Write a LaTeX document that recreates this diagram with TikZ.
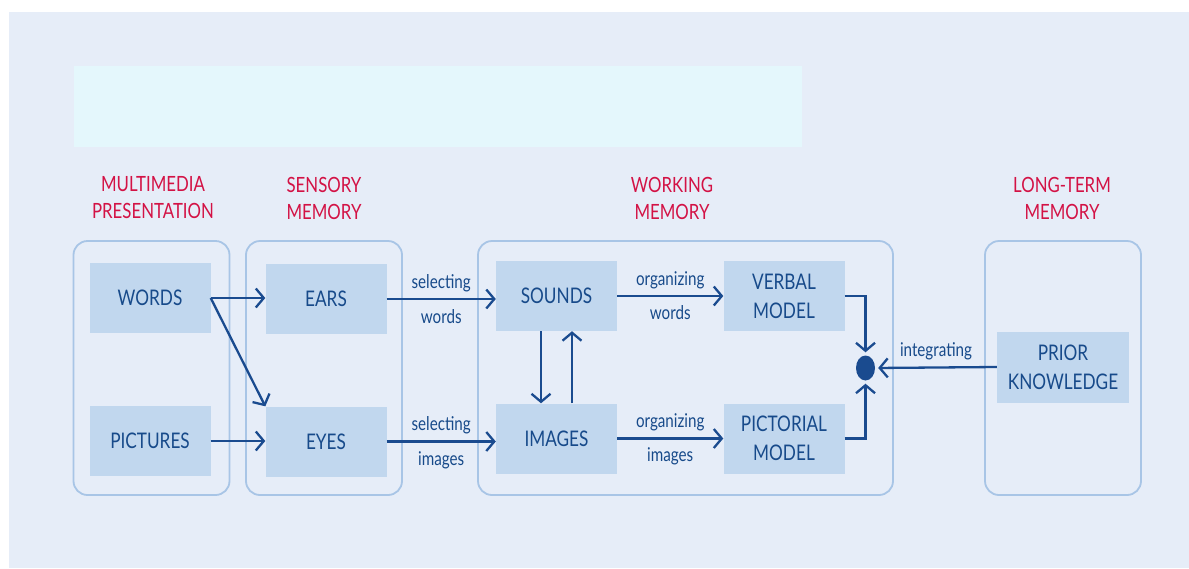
\documentclass[tikz,border=0pt]{standalone}
\usepackage{fontspec}
\setmainfont{Lato}[FakeStretch=0.8]
\usetikzlibrary{arrows.meta,shapes.geometric}
\definecolor{bgc}{HTML}{E6EDF8}
\definecolor{bannerc}{HTML}{E4F7FC}
\definecolor{grpc}{HTML}{A8C5E6}
\definecolor{boxc}{HTML}{C1D7EE}
\definecolor{txtc}{HTML}{174A8A}
\definecolor{arrc}{HTML}{1A4B8F}
\definecolor{redc}{HTML}{D31245}
\tikzset{
  grp/.style={draw=grpc, line width=1.8pt, rounded corners=14pt, minimum width=156pt, minimum height=254pt, inner sep=0pt},
  box/.style={fill=boxc, text=txtc, minimum width=121pt, minimum height=70pt, align=center, inner sep=0pt, font=\fontsize{21.5}{29}\selectfont},
  head/.style={text=redc, align=center, font=\fontsize{21}{27}\selectfont},
  lbl/.style={text=txtc, font=\fontsize{19}{23}\selectfont},
  arr/.style={draw=arrc, line width=2.3pt, -{Straight Barb[length=8pt,width=19pt]}},
}
\begin{document}
\begin{tikzpicture}[x=1pt,y=-1pt]
\useasboundingbox (0,0) rectangle (1189,568);
\fill[white] (0,0) rectangle (1189,568);
\fill[bgc] (9,12) rectangle (1189,568);
\fill[bannerc] (74,66) rectangle (802,147);

% headings
\node[head] (h1) at (153,198) {MULTIMEDIA\\PRESENTATION};
\node[head] (h2) at (324,198) {SENSORY\\MEMORY};
\node[head] (h3) at (672,198) {WORKING\\MEMORY};
\node[head] (h4) at (1062,198) {LONG-TERM\\MEMORY};

% groups
\node[grp] (g1) at (151.5,368) {};
\node[grp] (g2) at (324,368) {};
\node[grp, minimum width=415pt] (g3) at (685.5,368) {};
\node[grp] (g4) at (1063,368) {};

% boxes
\node[box] (words) at (150,298) {WORDS};
\node[box] (pictures) at (150,441) {PICTURES};
\node[box] (ears) at (326,299) {EARS};
\node[box] (eyes) at (326,441.5) {EYES};
\node[box] (sounds) at (556.5,296) {SOUNDS};
\node[box] (images) at (556.5,438.5) {IMAGES};
\node[box] (verbal) at (784,296) {VERBAL\\MODEL};
\node[box] (pictorial) at (784,438.5) {PICTORIAL\\MODEL};
\node[box, minimum width=132pt, minimum height=71pt] (prior) at (1063,367) {PRIOR\\KNOWLEDGE};

\node[ellipse, fill=arrc, minimum width=19pt, minimum height=25pt, inner sep=0pt] (dot) at (865.5,368) {};

% connectors
\draw[arr] (words.east) -- (ears.west |- words.east);
\draw[arr] (words.east) -- (eyes.north west);
\draw[arr] (pictures.east) -- (eyes.west |- pictures.east);
\draw[arr] (ears.east) -- node[lbl, above=3pt] {selecting} node[lbl, below=6pt] {words} (sounds.west |- ears.east);
\draw[arr] (eyes.east) -- node[lbl, above=3pt] {selecting} node[lbl, below=6pt] {images} (images.west |- eyes.east);
\draw[arr] ([xshift=-15.5pt]sounds.south) -- ([xshift=-15.5pt]images.north);
\draw[arr] ([xshift=15.5pt]images.north) -- ([xshift=15.5pt]sounds.south);
\draw[arr] (sounds.east) -- node[lbl, above=3pt] {organizing} node[lbl, below=5pt] {words} (verbal.west);
\draw[arr] (images.east) -- node[lbl, above=3pt] {organizing} node[lbl, below=5pt] {images} (pictorial.west);
\draw[arr, shorten >=3pt] (verbal.east) -| (dot.north);
\draw[arr, shorten >=3pt] (pictorial.east) -| (dot.south);
\draw[arr, shorten >=3pt] (prior.west) -- node[lbl, above=3pt] {integrating} (dot.east);
\end{tikzpicture}
\end{document}
